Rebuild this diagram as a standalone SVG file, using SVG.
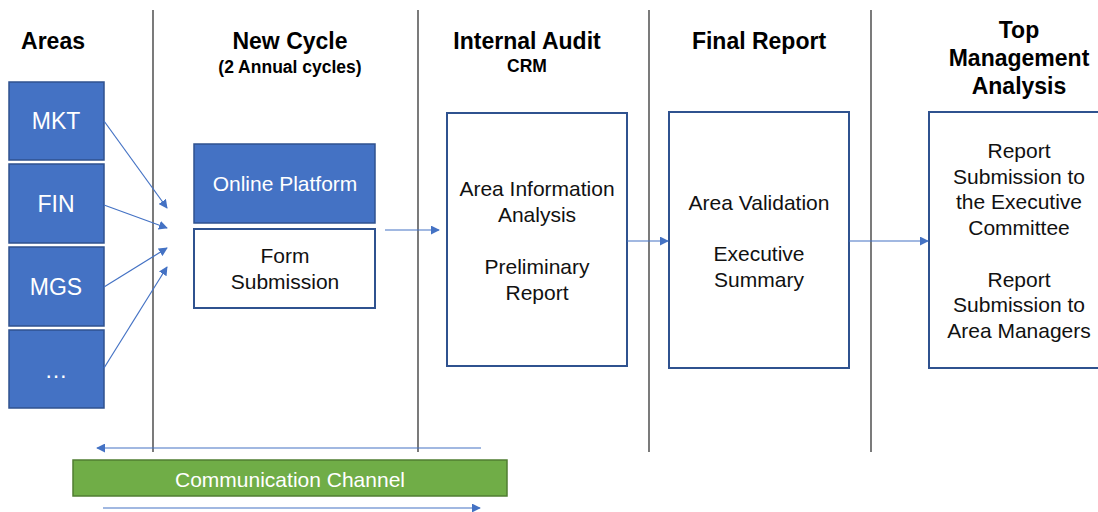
<svg xmlns="http://www.w3.org/2000/svg" width="1098" height="512" viewBox="0 0 1098 512">
<style>
.hdr{font-family:"Liberation Sans",Arial,sans-serif;font-weight:bold;font-size:23px;fill:#000;text-anchor:middle}
.sub{font-family:"Liberation Sans",Arial,sans-serif;font-weight:bold;font-size:17.5px;fill:#000;text-anchor:middle}
.t{font-family:"Liberation Sans",Arial,sans-serif;font-size:21px;fill:#111;text-anchor:middle}
.tw{font-family:"Liberation Sans",Arial,sans-serif;font-size:21px;fill:#fff;text-anchor:middle}
.ta{font-family:"Liberation Sans",Arial,sans-serif;font-size:23px;fill:#fff;text-anchor:middle}
.blue{fill:#4472C4;stroke:#2F528F;stroke-width:1.5}
.white{fill:#fff;stroke:#2F528F;stroke-width:2}
.green{fill:#70AD47;stroke:#507E32;stroke-width:1.5}
.sep{stroke:#222;stroke-width:1.2}
.arr{stroke:#4472C4;stroke-width:1.2;fill:none;marker-end:url(#ah)}
</style>
<defs>
<marker id="ah" viewBox="0 0 10 10" refX="9" refY="5" markerWidth="9" markerHeight="9" markerUnits="userSpaceOnUse" orient="auto">
<path d="M0,0 L10,5 L0,10 z" fill="#4472C4"/>
</marker>
</defs>
<rect width="1098" height="512" fill="#fff"/>
<g id="separators">
<line class="sep" x1="153" y1="10" x2="153" y2="452"/>
<line class="sep" x1="418" y1="10" x2="418" y2="452"/>
<line class="sep" x1="649" y1="10" x2="649" y2="452"/>
<line class="sep" x1="871" y1="10" x2="871" y2="452"/>
</g>
<g id="headers">
<text class="hdr" x="53" y="49">Areas</text>
<text class="hdr" x="290" y="49">New Cycle</text>
<text class="sub" x="290" y="73">(2 Annual cycles)</text>
<text class="hdr" x="527" y="49">Internal Audit</text>
<text class="sub" x="527" y="72">CRM</text>
<text class="hdr" x="759" y="49">Final Report</text>
<text class="hdr" x="1019" y="38">Top</text>
<text class="hdr" x="1019" y="66">Management</text>
<text class="hdr" x="1019" y="94">Analysis</text>
</g>
<g id="mkt"><rect class="blue" x="9" y="82" width="95" height="78"/><text class="ta" x="56" y="129">MKT</text></g>
<g id="fin"><rect class="blue" x="9" y="164" width="95" height="79"/><text class="ta" x="56" y="212">FIN</text></g>
<g id="mgs"><rect class="blue" x="9" y="247" width="95" height="79"/><text class="ta" x="56" y="295">MGS</text></g>
<g id="more"><rect class="blue" x="9" y="330" width="95" height="78"/><text class="ta" x="56" y="378">…</text></g>
<g id="online-platform"><rect class="blue" x="194" y="144" width="181" height="79"/><text class="tw" x="285" y="191">Online Platform</text></g>
<g id="form-submission"><rect class="white" x="194" y="229" width="181" height="79"/><text class="t" x="285" y="263">Form</text><text class="t" x="285" y="289">Submission</text></g>
<g id="internal-audit"><rect class="white" x="447" y="113" width="180" height="253"/>
<text class="t" x="537" y="196">Area Information</text><text class="t" x="537" y="222">Analysis</text>
<text class="t" x="537" y="274">Preliminary</text><text class="t" x="537" y="300">Report</text></g>
<g id="final-report"><rect class="white" x="669" y="112" width="180" height="256"/>
<text class="t" x="759" y="210">Area Validation</text>
<text class="t" x="759" y="261">Executive</text><text class="t" x="759" y="287">Summary</text></g>
<g id="top-management"><rect class="white" x="929" y="112" width="175" height="256"/>
<text class="t" x="1019" y="158">Report</text><text class="t" x="1019" y="184">Submission to</text>
<text class="t" x="1019" y="209">the Executive</text><text class="t" x="1019" y="235">Committee</text>
<text class="t" x="1019" y="287">Report</text><text class="t" x="1019" y="312">Submission to</text>
<text class="t" x="1019" y="338">Area Managers</text></g>
<g id="communication-channel"><rect class="green" x="73" y="460" width="434" height="36"/><text class="tw" x="290" y="487">Communication Channel</text></g>
<g id="connectors">
<line class="arr" x1="104" y1="121" x2="167" y2="208"/>
<line class="arr" x1="104" y1="205" x2="167" y2="228"/>
<line class="arr" x1="104" y1="287" x2="167" y2="248"/>
<line class="arr" x1="104" y1="368" x2="167" y2="267"/>
<line class="arr" x1="385" y1="230" x2="439" y2="230"/>
<line class="arr" x1="627" y1="241" x2="668" y2="241"/>
<line class="arr" x1="849" y1="241" x2="928" y2="241"/>
<line class="arr" x1="481" y1="448" x2="97" y2="448"/>
<line class="arr" x1="103" y1="508" x2="480" y2="508"/>
</g>
</svg>
